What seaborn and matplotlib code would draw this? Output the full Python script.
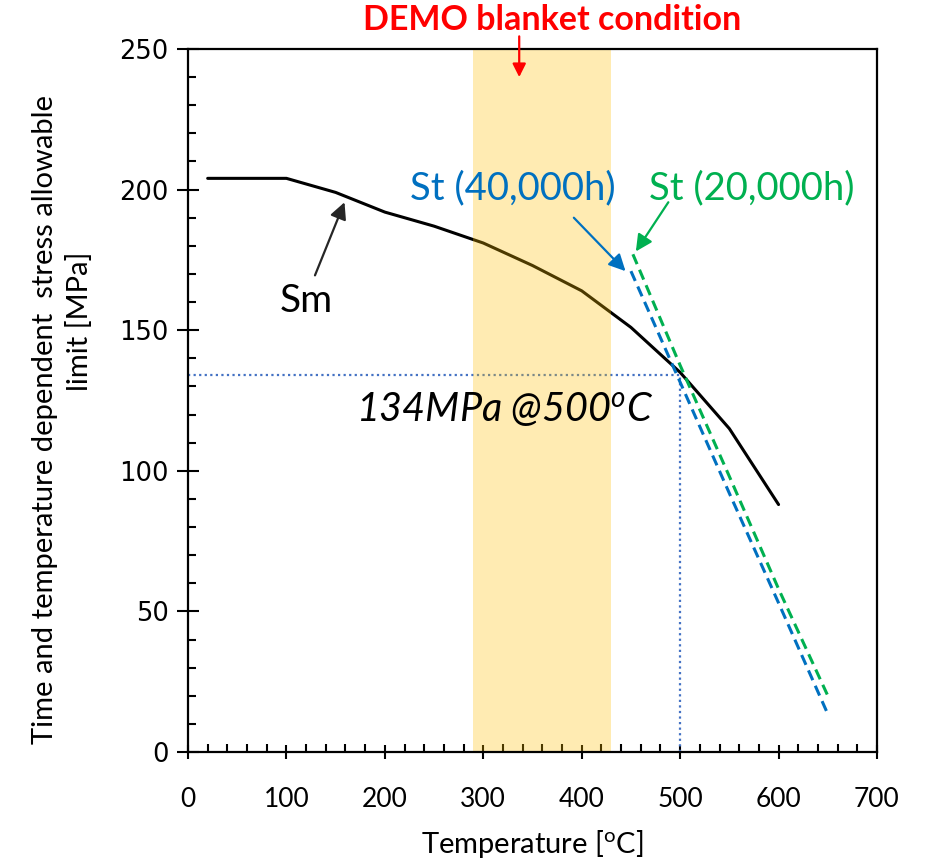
import matplotlib
matplotlib.use("Agg")
import matplotlib.pyplot as plt
from matplotlib.ticker import MultipleLocator
import seaborn as sns
import pandas as pd

# ---- data ----
sm_temp = [20, 100, 150, 200, 250, 300, 350, 400, 450, 500, 550, 600]
sm_stress = [204, 204, 199, 192, 187, 181, 173, 164, 151, 135, 115, 88]

st40_temp = [450, 500, 550, 600, 650]
st40_stress = [171, 131.5, 92, 53, 13.5]

st20_temp = [452, 500, 550, 600, 652]
st20_stress = [177, 137.5, 98, 58, 18.5]

demo_range = [290, 430]
ref_temp = 500
ref_stress = 134

x_ticks = [0, 100, 200, 300, 400, 500, 600, 700]
y_ticks = [0, 50, 100, 150, 200, 250]

sns.set_style("ticks")
plt.rcParams['font.family'] = ['Lato', 'DejaVu Sans']
plt.rcParams['mathtext.fontset'] = 'custom'
plt.rcParams['mathtext.rm'] = 'Lato'
plt.rcParams['mathtext.it'] = 'Lato:italic'
plt.rcParams['text.color'] = 'black'
plt.rcParams['axes.labelcolor'] = 'black'
plt.rcParams['xtick.color'] = 'black'
plt.rcParams['ytick.color'] = 'black'

fig = plt.figure(figsize=(9.28, 8.59), dpi=100)
ax = fig.add_axes([188/928, 1-752/859, (877-188)/928, (752-49)/859])

df_sm = pd.DataFrame({"T": sm_temp, "S": sm_stress})
df_40 = pd.DataFrame({"T": st40_temp, "S": st40_stress})
df_20 = pd.DataFrame({"T": st20_temp, "S": st20_stress})

sns.lineplot(data=df_sm, x="T", y="S", ax=ax, color="black", lw=2.2, zorder=3)
sns.lineplot(data=df_40, x="T", y="S", ax=ax, color="#0070C0", lw=2.2,
             dashes=False, zorder=3).lines[-1].set_dashes([3.5, 2])
sns.lineplot(data=df_20, x="T", y="S", ax=ax, color="#00B050", lw=2.2,
             dashes=False, zorder=3).lines[-1].set_dashes([3.5, 2])

# reference dotted lines
ax.plot([0, ref_temp], [ref_stress, ref_stress], color="#4472C4", lw=1.6,
        linestyle=(0, (1, 1.5)), zorder=2)
ax.plot([ref_temp, ref_temp], [0, ref_stress], color="#4472C4", lw=1.6,
        linestyle=(0, (1, 1.5)), zorder=2)

# shaded DEMO band on top
ax.axvspan(demo_range[0], demo_range[1], color="#FFC000", alpha=0.3, lw=0, zorder=4)

ax.set_xlim(0, 700)
ax.set_ylim(0, 250)
ax.set_xticks(x_ticks)
ax.set_yticks(y_ticks)
ax.xaxis.set_minor_locator(MultipleLocator(20))
ax.yaxis.set_minor_locator(MultipleLocator(10))
ax.tick_params(axis='x', which='both', bottom=True, top=False)
ax.tick_params(axis='y', which='both', left=True, right=False)
ax.tick_params(axis='x', which='major', direction='inout', length=10, width=1.5,
               labelsize=19, pad=20, color='black', labelcolor='black')
ax.tick_params(axis='y', which='major', direction='inout', length=16, width=1.5,
               labelsize=18.5, pad=6, color='black', labelcolor='black')
ax.tick_params(which='minor', direction='in', length=6, width=1.5, color='black')
for lab in ax.get_yticklabels():
    lab.set_family('DejaVu Sans')
for s in ax.spines.values():
    s.set_visible(True)
    s.set_linewidth(1.6)
    s.set_color('black')
    s.set_zorder(5)

ax.set_xlabel("Temperature [$^{\\mathrm{o}}$C]", fontsize=21, labelpad=12,
              color='black')
ax.set_ylabel("")
fig.text(45/928, 1-420/859, "Time and temperature dependent  stress allowable",
         fontsize=21, rotation=90, ha='center', va='center', color='black')
fig.text(80/928, 1-321/859, "limit [MPa]",
         fontsize=21, rotation=90, ha='center', va='center', color='black')

# annotations
ax.text(322, 121.5, "134MPa @500$^{o}$C", fontsize=28.5, style='italic',
        ha='center', va='center', zorder=6, color='black')
ax.text(120, 160.5, "Sm", fontsize=28, ha='center', va='center', zorder=6,
        color='black')
ax.annotate("", xy=(159, 195.5), xytext=(129, 169.5),
            arrowprops=dict(arrowstyle="-|>", color="#262626", lw=1.6,
                            mutation_scale=25, shrinkA=0, shrinkB=0), zorder=6)
ax.text(330, 200.5, "St (40,000h)", fontsize=27.5, color="#0070C0",
        ha='center', va='center', zorder=6)
ax.annotate("", xy=(444.5, 171), xytext=(392, 190),
            arrowprops=dict(arrowstyle="-|>", color="#0070C0", lw=1.6,
                            mutation_scale=25, shrinkA=0, shrinkB=0), zorder=6)
ax.text(573, 200.5, "St (20,000h)", fontsize=27.5, color="#00B050",
        ha='center', va='center', zorder=6)
ax.annotate("", xy=(455, 178), xytext=(488, 195.5),
            arrowprops=dict(arrowstyle="-|>", color="#00B050", lw=1.6,
                            mutation_scale=25, shrinkA=0, shrinkB=0), zorder=6)

fig.text(552/928, 1-20/859, "DEMO blanket condition", fontsize=24.5,
         fontweight='bold', color="#FF0000", ha='center', va='center')
ax.annotate("", xy=(336.5, 240), xytext=(336.5, 254.5),
            arrowprops=dict(arrowstyle="-|>", color="#FF0000", lw=1.6,
                            mutation_scale=20, shrinkA=0, shrinkB=0),
            annotation_clip=False, zorder=6)

fig.savefig("out.png", dpi=100)
